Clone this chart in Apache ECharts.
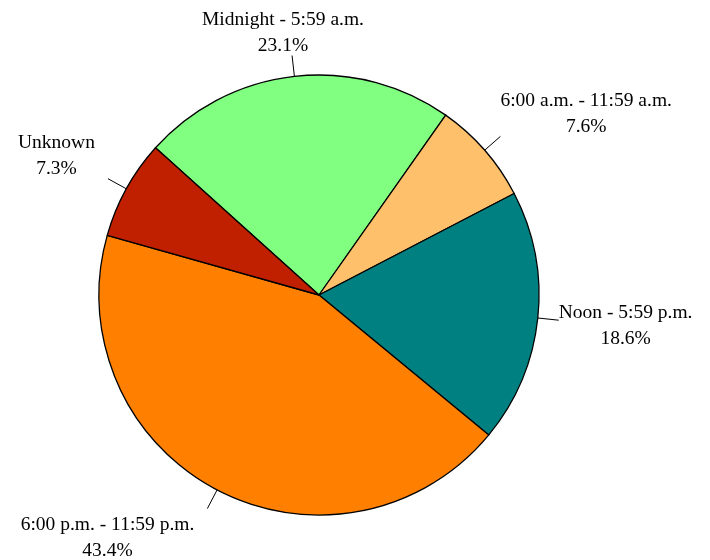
<!DOCTYPE html>
<html>
<head>
<meta charset="utf-8">
<script src="https://cdn.jsdelivr.net/npm/echarts@6/dist/echarts.min.js"></script>
<style>
html,body{margin:0;padding:0;background:#fff;}
#chart{width:710px;height:560px;}
</style>
</head>
<body>
<div id="chart"></div>
<script>
var categories = ['Midnight - 5:59 a.m.', '6:00 a.m. - 11:59 a.m.', 'Noon - 5:59 p.m.', '6:00 p.m. - 11:59 p.m.', 'Unknown'];
var values = [23.1, 7.6, 18.6, 43.4, 7.3];
var colors = ['#80FF80', '#FFC06C', '#008080', '#FF8000', '#C02000'];

var chart = echarts.init(document.getElementById('chart'), null, {renderer: 'canvas'});
chart.setOption({
  backgroundColor: '#fff',
  animation: false,
  series: [{
    type: 'pie',
    center: [319, 295],
    radius: [0, 220],
    startAngle: 138,
    clockwise: true,
    avoidLabelOverlap: false,
    data: categories.map(function (c, i) {
      return {name: c, value: values[i], itemStyle: {color: colors[i]}};
    }),
    itemStyle: {borderColor: '#000', borderWidth: 1.3},
    emphasis: {disabled: true},
    label: {
      show: true,
      position: 'outside',
      formatter: function (p) { return p.name + '\n' + p.value.toFixed(1) + '%'; },
      fontFamily: 'Liberation Serif',
      fontSize: 19.5,
      lineHeight: 26,
      color: '#000',
      align: 'center'
    },
    labelLine: {
      show: true,
      length: 21,
      length2: 0,
      smooth: false,
      lineStyle: {color: '#000', width: 1}
    },
    labelLayout: function (p) {
      var pts = p.labelLinePoints;
      if (!pts) return {};
      var x0 = pts[0][0], y0 = pts[0][1], x1 = pts[1][0], y1 = pts[1][1];
      var len = Math.hypot(x1 - x0, y1 - y0) || 1;
      var dx = (x1 - x0) / len, dy = (y1 - y0) / len;
      var w = p.labelRect.width, h = p.labelRect.height;
      var sx = Math.abs(dx) < 0.25 ? dx : Math.sign(dx);
      var sy = Math.abs(dy) < 0.25 ? dy : Math.sign(dy);
      var gx = sx < -0.5 ? 13 : 0;
      return {
        x: x1 + sx * (w / 2 + gx),
        y: y1 + sy * (h / 2) + 3,
        align: 'center',
        verticalAlign: 'middle',
        labelLinePoints: [pts[0], pts[1], pts[1]]
      };
    }
  }]
});
</script>
</body>
</html>
